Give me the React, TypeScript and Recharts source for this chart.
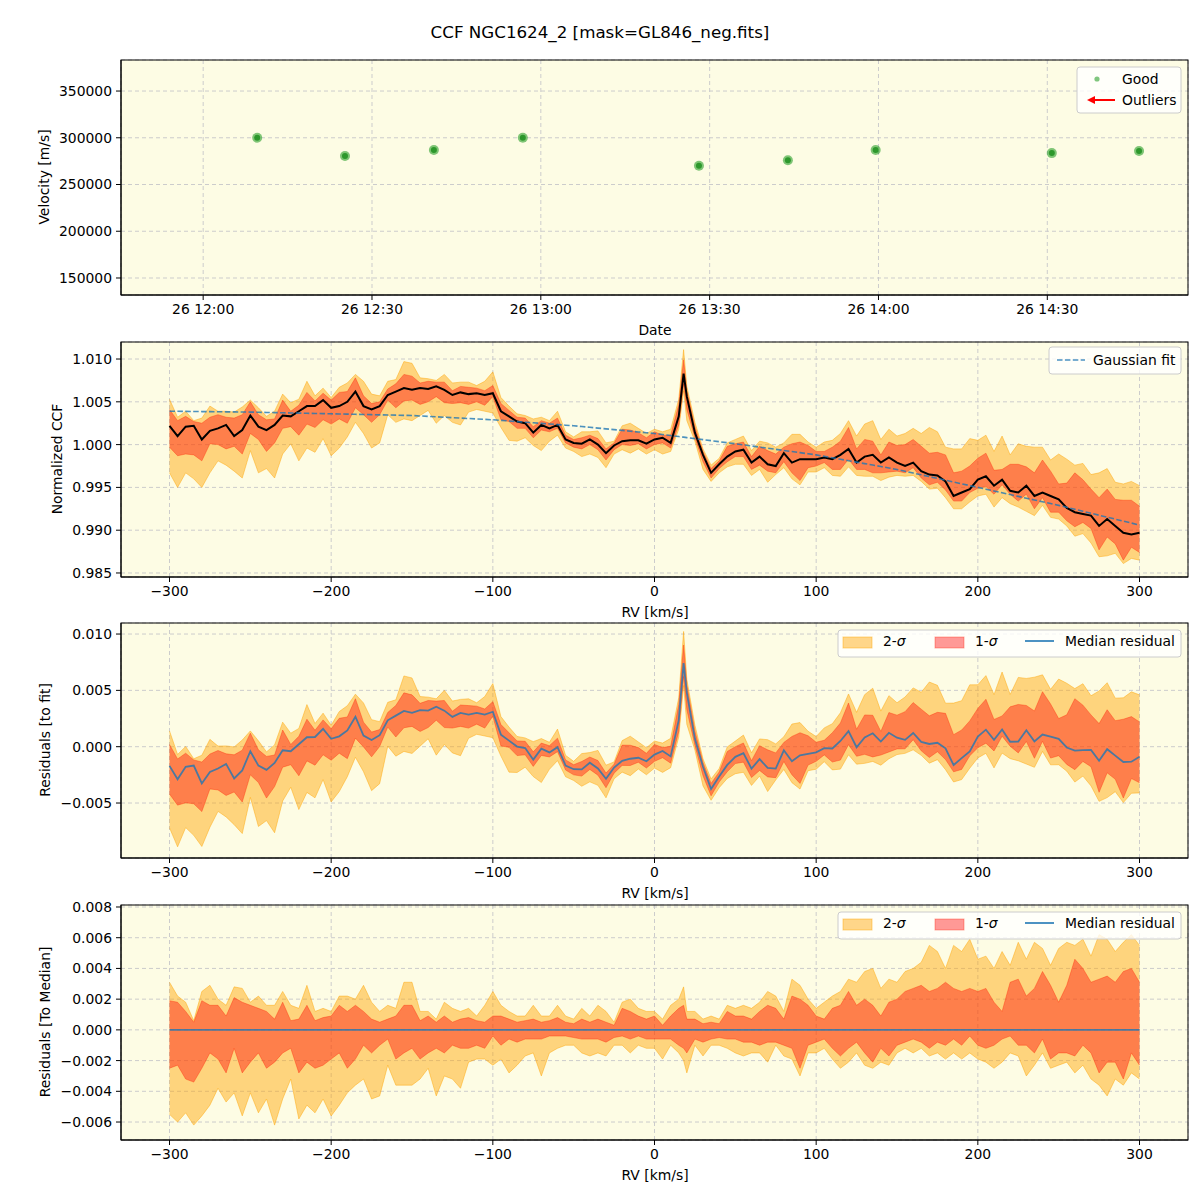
import { ComposedChart, ScatterChart, Scatter, Area, Line, XAxis, YAxis, CartesianGrid } from "recharts";

// observation times (26th) and measured velocities
const obsTimes = ["12:09:36", "12:25:12", "12:41:00", "12:56:48", "13:28:06", "13:43:54", "13:59:30", "14:30:48", "14:46:18"];
const obsVel = [300000, 280500, 287000, 300000, 270000, 276000, 287000, 283600, 285800];
const timeTicks = [0, 30, 60, 90, 120, 150]; // minutes after 12:00
const velTicks = [150000, 200000, 250000, 300000, 350000];

// RV grid [km/s]
const rv = [
  -300, -295, -290, -285, -280, -275, -270, -265, -260, -255,
  -250, -245, -240, -235, -230, -225, -220, -215, -210, -205,
  -200, -195, -190, -185, -180, -175, -170, -165, -160, -155,
  -150, -145, -140, -135, -130, -125, -120, -115, -110, -105,
  -100, -95, -90, -85, -80, -75, -70, -65, -60, -55,
  -50, -45, -40, -35, -30, -25, -20, -15, -10, -5,
  0, 5, 10, 15, 18, 20, 25, 30, 35, 40,
  45, 50, 55, 60, 65, 70, 75, 80, 85, 90,
  95, 100, 105, 110, 115, 120, 125, 130, 135, 140,
  145, 150, 155, 160, 165, 170, 175, 180, 185, 190,
  195, 200, 205, 210, 215, 220, 225, 230, 235, 240,
  245, 250, 255, 260, 265, 270, 275, 280, 285, 290,
  295, 300,
];

// median normalized CCF
const ccf = [
  1.0022, 1.0010, 1.0021, 1.0022, 1.0006, 1.0016, 1.0019, 1.0023, 1.0010, 1.0017,
  1.0034, 1.0021, 1.0017, 1.0023, 1.0034, 1.0033, 1.0039, 1.0045, 1.0045, 1.0052,
  1.0043, 1.0045, 1.0050, 1.0062, 1.0045, 1.0041, 1.0045, 1.0058, 1.0062, 1.0066,
  1.0064, 1.0066, 1.0065, 1.0068, 1.0064, 1.0058, 1.0061, 1.0059, 1.0060, 1.0058,
  1.0060, 1.0039, 1.0033, 1.0027, 1.0025, 1.0014, 1.0023, 1.0019, 1.0023, 1.0006,
  1.0002, 1.0001, 1.0006, 1.0000, 0.9990, 0.9999, 1.0004, 1.0005, 1.0005, 1.0001,
  1.0006, 1.0008, 1.0002, 1.0033, 1.0083, 1.0056, 1.0014, 0.9988, 0.9967, 0.9977,
  0.9986, 0.9992, 0.9994, 0.9979, 0.9986, 0.9977, 0.9975, 0.9990, 0.9979, 0.9983,
  0.9983, 0.9983, 0.9985, 0.9983, 0.9988, 0.9995, 0.9979, 0.9986, 0.9988, 0.9979,
  0.9985, 0.9979, 0.9975, 0.9979, 0.9969, 0.9965, 0.9964, 0.9957, 0.9940, 0.9944,
  0.9948, 0.9959, 0.9963, 0.9952, 0.9959, 0.9946, 0.9944, 0.9952, 0.9940, 0.9944,
  0.9940, 0.9936, 0.9926, 0.9921, 0.9919, 0.9917, 0.9905, 0.9913, 0.9905, 0.9897,
  0.9895, 0.9897,
];

// gaussian fit
const gaussFit = [
  1.0039, 1.00389, 1.00388, 1.00387, 1.00386, 1.00385, 1.00384, 1.00383, 1.00382, 1.00381,
  1.0038, 1.00378, 1.00376, 1.00374, 1.00372, 1.0037, 1.00368, 1.00366, 1.00364, 1.00362,
  1.0036, 1.00358, 1.00356, 1.00354, 1.00352, 1.0035, 1.00348, 1.00346, 1.00344, 1.00342,
  1.0034, 1.00335, 1.0033, 1.00325, 1.0032, 1.00315, 1.0031, 1.00305, 1.003, 1.00295,
  1.0029, 1.00283, 1.00276, 1.00269, 1.00262, 1.00255, 1.00248, 1.00241, 1.00234, 1.00227,
  1.0022, 1.00211, 1.00202, 1.00193, 1.00184, 1.00175, 1.00166, 1.00157, 1.00148, 1.00139,
  1.0013, 1.00118, 1.00106, 1.00094, 1.00087, 1.00082, 1.0007, 1.00058, 1.00046, 1.00034,
  1.00022, 1.0001, 0.99997, 0.99984, 0.99971, 0.99958, 0.99945, 0.99932, 0.99919, 0.99906,
  0.99893, 0.9988, 0.99863, 0.99846, 0.99829, 0.99812, 0.99795, 0.99778, 0.99761, 0.99744,
  0.99727, 0.9971, 0.99689, 0.99668, 0.99647, 0.99626, 0.99605, 0.99584, 0.99563, 0.99542,
  0.99521, 0.995, 0.99479, 0.99458, 0.99437, 0.99416, 0.99395, 0.99374, 0.99353, 0.99332,
  0.99311, 0.9929, 0.99267, 0.99244, 0.99221, 0.99198, 0.99175, 0.99152, 0.99129, 0.99106,
  0.99083, 0.9906,
];

// spread around the median (residuals to median)
const hi2 = [
  0.0031, 0.0022, 0.0018, 0.0006, 0.0025, 0.0029, 0.0020, 0.0016, 0.0028, 0.0027,
  0.0018, 0.0022, 0.0016, 0.0016, 0.0025, 0.0016, 0.0014, 0.0029, 0.0012, 0.0014,
  0.0012, 0.0022, 0.0022, 0.0020, 0.0029, 0.0018, 0.0012, 0.0016, 0.0014, 0.0031,
  0.0031, 0.0012, 0.0012, 0.0007, 0.0018, 0.0014, 0.0012, 0.0014, 0.0009, 0.0016,
  0.0025, 0.0016, 0.0012, 0.0009, 0.0009, 0.0016, 0.0009, 0.0009, 0.0016, 0.0009,
  0.0007, 0.0014, 0.0009, 0.0016, 0.0012, 0.0005, 0.0018, 0.0020, 0.0014, 0.0012,
  0.0012, 0.0007, 0.0016, 0.0020, 0.0028, 0.0012, 0.0012, 0.0007, 0.0009, 0.0007,
  0.0016, 0.0014, 0.0016, 0.0014, 0.0018, 0.0025, 0.0022, 0.0012, 0.0033, 0.0029,
  0.0020, 0.0014, 0.0018, 0.0022, 0.0025, 0.0033, 0.0031, 0.0038, 0.0040, 0.0027,
  0.0033, 0.0031, 0.0038, 0.0040, 0.0044, 0.0055, 0.0051, 0.0040, 0.0055, 0.0051,
  0.0059, 0.0046, 0.0048, 0.0040, 0.0051, 0.0042, 0.0057, 0.0046, 0.0057, 0.0053,
  0.0042, 0.0053, 0.0057, 0.0055, 0.0059, 0.0048, 0.0062, 0.0059, 0.0051, 0.0057,
  0.0062, 0.0055,
];
const hi1 = [
  0.0019, 0.0018, 0.0012, 0.0005, 0.0019, 0.0016, 0.0016, 0.0009, 0.0021, 0.0018,
  0.0016, 0.0014, 0.0012, 0.0007, 0.0018, 0.0006, 0.0007, 0.0016, 0.0006, 0.0008,
  0.0009, 0.0016, 0.0012, 0.0016, 0.0012, 0.0007, 0.0005, 0.0007, 0.0009, 0.0016,
  0.0016, 0.0006, 0.0009, 0.0005, 0.0009, 0.0005, 0.0007, 0.0008, 0.0006, 0.0005,
  0.0009, 0.0009, 0.0007, 0.0005, 0.0006, 0.0007, 0.0005, 0.0006, 0.0008, 0.0005,
  0.0004, 0.0007, 0.0005, 0.0007, 0.0005, 0.0003, 0.0014, 0.0012, 0.0009, 0.0007,
  0.0009, 0.0003, 0.0009, 0.0014, 0.0016, 0.0007, 0.0007, 0.0004, 0.0005, 0.0004,
  0.0012, 0.0009, 0.0009, 0.0007, 0.0012, 0.0016, 0.0014, 0.0007, 0.0022, 0.0020,
  0.0016, 0.0009, 0.0007, 0.0014, 0.0016, 0.0025, 0.0016, 0.0020, 0.0016, 0.0009,
  0.0018, 0.0020, 0.0025, 0.0027, 0.0029, 0.0025, 0.0027, 0.0031, 0.0027, 0.0025,
  0.0027, 0.0025, 0.0027, 0.0018, 0.0012, 0.0031, 0.0033, 0.0022, 0.0027, 0.0038,
  0.0029, 0.0018, 0.0029, 0.0046, 0.0040, 0.0031, 0.0033, 0.0035, 0.0031, 0.0038,
  0.0040, 0.0031,
];
const lo1 = [
  -0.0025, -0.0023, -0.0032, -0.0034, -0.0025, -0.0015, -0.0019, -0.0028, -0.0012, -0.0028,
  -0.0021, -0.0015, -0.0025, -0.0021, -0.0015, -0.0012, -0.0028, -0.0021, -0.0025, -0.0023,
  -0.0019, -0.0015, -0.0025, -0.0019, -0.0010, -0.0015, -0.0010, -0.0006, -0.0019, -0.0015,
  -0.0012, -0.0019, -0.0015, -0.0012, -0.0015, -0.0010, -0.0012, -0.0012, -0.0010, -0.0012,
  -0.0004, -0.0010, -0.0006, -0.0008, -0.0006, -0.0006, -0.0006, -0.0004, -0.0004, -0.0004,
  -0.0005, -0.0006, -0.0006, -0.0006, -0.0008, -0.0005, -0.0004, -0.0006, -0.0004, -0.0006,
  -0.0006, -0.0006, -0.0006, -0.0010, -0.0012, -0.0015, -0.0006, -0.0008, -0.0006, -0.0005,
  -0.0006, -0.0006, -0.0008, -0.0008, -0.0010, -0.0008, -0.0008, -0.0010, -0.0012, -0.0025,
  -0.0010, -0.0008, -0.0006, -0.0012, -0.0017, -0.0012, -0.0008, -0.0015, -0.0021, -0.0012,
  -0.0017, -0.0010, -0.0008, -0.0006, -0.0008, -0.0012, -0.0008, -0.0010, -0.0006, -0.0010,
  -0.0004, -0.0010, -0.0012, -0.0010, -0.0006, -0.0004, -0.0010, -0.0010, -0.0015, -0.0006,
  -0.0019, -0.0015, -0.0015, -0.0017, -0.0010, -0.0015, -0.0028, -0.0021, -0.0021, -0.0032,
  -0.0015, -0.0023,
];
const lo2 = [
  -0.0055, -0.0060, -0.0054, -0.0062, -0.0056, -0.0049, -0.0038, -0.0047, -0.0041, -0.0056,
  -0.0041, -0.0054, -0.0045, -0.0062, -0.0045, -0.0032, -0.0058, -0.0049, -0.0054, -0.0045,
  -0.0056, -0.0049, -0.0041, -0.0036, -0.0032, -0.0045, -0.0043, -0.0023, -0.0036, -0.0036,
  -0.0036, -0.0032, -0.0025, -0.0043, -0.0030, -0.0032, -0.0038, -0.0021, -0.0019, -0.0019,
  -0.0023, -0.0019, -0.0028, -0.0023, -0.0017, -0.0015, -0.0030, -0.0015, -0.0012, -0.0010,
  -0.0010, -0.0015, -0.0017, -0.0015, -0.0017, -0.0010, -0.0010, -0.0015, -0.0010, -0.0012,
  -0.0012, -0.0019, -0.0010, -0.0015, -0.0020, -0.0028, -0.0010, -0.0017, -0.0010, -0.0010,
  -0.0012, -0.0015, -0.0017, -0.0015, -0.0015, -0.0021, -0.0010, -0.0017, -0.0019, -0.0030,
  -0.0015, -0.0015, -0.0012, -0.0019, -0.0025, -0.0021, -0.0015, -0.0023, -0.0025, -0.0021,
  -0.0023, -0.0015, -0.0012, -0.0015, -0.0012, -0.0017, -0.0015, -0.0019, -0.0015, -0.0019,
  -0.0015, -0.0019, -0.0021, -0.0025, -0.0021, -0.0015, -0.0017, -0.0030, -0.0023, -0.0015,
  -0.0025, -0.0023, -0.0021, -0.0028, -0.0023, -0.0032, -0.0036, -0.0043, -0.0032, -0.0036,
  -0.0028, -0.0032,
];

const rvTicks = [-300, -200, -100, 0, 100, 200, 300];
const ccfTicks = [0.985, 0.99, 0.995, 1.0, 1.005, 1.01];
const resTicks = [-0.005, 0, 0.005, 0.01];
const medTicks = [-0.006, -0.004, -0.002, 0, 0.002, 0.004, 0.006, 0.008];

const FONT = "DejaVu Sans, sans-serif";
const BG = "#fdfce4";
const PLOT_L = 121;
const PLOT_R = 1188;
const PLOT_H = 235;
const PAD_TOP = 10;
const XAX_H = 30;
const CHART_H = PAD_TOP + PLOT_H + XAX_H;
const TOPS = [60, 342, 623, 905];
const MARGIN = { top: PAD_TOP, right: 1200 - PLOT_R, bottom: 0, left: 0 };
const tickStyle = { fill: "#000", fontSize: 13.9, fontFamily: FONT };
const BLUE = "#1f77b4";

const minus = (s: string) => s.replace("-", "\u2212");
const fmt3 = (v: number) => minus(v.toFixed(3));
const fmtRv = (v: number) => minus(String(v));
const toMin = (t: string) => {
  const [h, m, s] = t.split(":").map(Number);
  return (h - 12) * 60 + m + s / 60;
};
const fmtTime = (m: number) => {
  const tot = 12 * 60 + m;
  return `26 ${Math.floor(tot / 60)}:${String(tot % 60).padStart(2, "0")}`;
};

const obsPoints = obsTimes.map((t, i) => ({ t: toMin(t), v: obsVel[i] }));

const ccfRows = rv.map((x, i) => ({
  rv: x,
  med: ccf[i],
  fit: gaussFit[i],
  s2: [ccf[i] + lo2[i], ccf[i] + hi2[i]],
  s1: [ccf[i] + lo1[i], ccf[i] + hi1[i]],
}));

const fitRows = rv.map((x, i) => {
  const r = ccf[i] - gaussFit[i];
  return { rv: x, med: r, s2: [r + lo2[i], r + hi2[i]], s1: [r + lo1[i], r + hi1[i]] };
});

const medRows = rv.map((x, i) => ({
  rv: x,
  med: ccf[i] - ccf[i],
  s2: [lo2[i], hi2[i]],
  s1: [lo1[i], hi1[i]],
}));

function GoodDot(p: any) {
  return (
    <g>
      <circle cx={p.cx} cy={p.cy} r={5} fill="#2ca02c" fillOpacity={0.6} />
      <circle cx={p.cx} cy={p.cy} r={3} fill="#1f8f1f" fillOpacity={0.85} />
    </g>
  );
}

function RvPanel({ rows, top, domain, ticks, showFit, lineColor }: any) {
  return (
    <div style={{ position: "absolute", left: 0, top: top - PAD_TOP }}>
      <ComposedChart width={1200} height={CHART_H} data={rows} margin={MARGIN}>
        <CartesianGrid stroke="#cccccc" strokeDasharray="4 3" fill={BG} fillOpacity={1} />
        <XAxis
          dataKey="rv"
          type="number"
          domain={[-330, 330]}
          ticks={rvTicks}
          tickFormatter={fmtRv}
          tick={tickStyle}
          tickSize={5}
          tickMargin={4}
          height={XAX_H}
          stroke="#000"
          allowDataOverflow
        />
        <YAxis
          type="number"
          domain={domain}
          ticks={ticks}
          tickFormatter={fmt3}
          tick={tickStyle}
          tickSize={5}
          tickMargin={4}
          width={PLOT_L}
          stroke="#000"
          allowDataOverflow
        />
        <Area
          dataKey="s2"
          type="linear"
          fill="#ffa500"
          fillOpacity={0.45}
          stroke="#ffa500"
          strokeOpacity={0.45}
          strokeWidth={1}
          dot={false}
          activeDot={false}
          isAnimationActive={false}
        />
        <Area
          dataKey="s1"
          type="linear"
          fill="#ff0000"
          fillOpacity={0.4}
          stroke="#ff2000"
          strokeOpacity={0.35}
          strokeWidth={1}
          dot={false}
          activeDot={false}
          isAnimationActive={false}
        />
        <Line
          dataKey="med"
          type="linear"
          stroke={lineColor}
          strokeOpacity={lineColor === "#000" ? 1 : 0.8}
          strokeWidth={lineColor === "#000" ? 2 : 1.8}
          dot={false}
          activeDot={false}
          isAnimationActive={false}
        />
        {showFit && (
          <Line
            dataKey="fit"
            type="linear"
            stroke={BLUE}
            strokeOpacity={0.8}
            strokeWidth={1.6}
            strokeDasharray="5.5 2.4"
            dot={false}
            activeDot={false}
            isAnimationActive={false}
          />
        )}
      </ComposedChart>
    </div>
  );
}

function BandLegend({ y }: { y: number }) {
  return (
    <g fontFamily={FONT} fontSize={13.9}>
      <rect x={838} y={y} width={343} height={27} rx={3} fill="#fff" fillOpacity={0.8} stroke="#cccccc" />
      <rect x={843} y={y + 7} width={29} height={11} fill="#ffa500" fillOpacity={0.45} stroke="#ffa500" strokeOpacity={0.45} />
      <text x={883} y={y + 16}>
        2-<tspan fontStyle="italic">σ</tspan>
      </text>
      <rect x={935} y={y + 7} width={29} height={11} fill="#ff0000" fillOpacity={0.4} stroke="#ff2000" strokeOpacity={0.35} />
      <text x={975} y={y + 16}>
        1-<tspan fontStyle="italic">σ</tspan>
      </text>
      <line x1={1025} x2={1054} y1={y + 11} y2={y + 11} stroke={BLUE} strokeOpacity={0.8} strokeWidth={2} />
      <text x={1065} y={y + 16}>Median residual</text>
    </g>
  );
}

export default function App() {
  return (
    <div style={{ position: "absolute", left: 0, top: 0, width: 1200, height: 1200, background: "#fff", fontFamily: FONT }}>
      {/* velocities over time */}
      <div style={{ position: "absolute", left: 0, top: TOPS[0] - PAD_TOP }}>
        <ScatterChart width={1200} height={CHART_H} margin={MARGIN}>
          <CartesianGrid stroke="#cccccc" strokeDasharray="4 3" fill={BG} fillOpacity={1} />
          <XAxis
            dataKey="t"
            type="number"
            domain={[-14.6, 175]}
            ticks={timeTicks}
            tickFormatter={fmtTime}
            tick={tickStyle}
            tickSize={5}
            tickMargin={4}
            height={XAX_H}
            stroke="#000"
            allowDataOverflow
          />
          <YAxis
            dataKey="v"
            type="number"
            domain={[131800, 383200]}
            ticks={velTicks}
            tick={tickStyle}
            tickSize={5}
            tickMargin={4}
            width={PLOT_L}
            stroke="#000"
            allowDataOverflow
          />
          <Scatter data={obsPoints} shape={GoodDot} isAnimationActive={false} />
        </ScatterChart>
      </div>

      <RvPanel rows={ccfRows} top={TOPS[1]} domain={[0.98453, 1.01199]} ticks={ccfTicks} showFit lineColor="#000" />
      <RvPanel rows={fitRows} top={TOPS[2]} domain={[-0.00988, 0.01098]} ticks={resTicks} lineColor={BLUE} />
      <RvPanel rows={medRows} top={TOPS[3]} domain={[-0.00717, 0.00813]} ticks={medTicks} lineColor={BLUE} />

      <svg width={1200} height={1200} style={{ position: "absolute", left: 0, top: 0, pointerEvents: "none" }}>
        {TOPS.map((t) => (
          <rect key={t} x={PLOT_L} y={t} width={PLOT_R - PLOT_L} height={PLOT_H} fill="none" stroke="#000" strokeWidth={1} />
        ))}
        <g fontFamily={FONT} fill="#000">
          <text x={600} y={38} fontSize={16.7} textAnchor="middle">
            CCF NGC1624_2 [mask=GL846_neg.fits]
          </text>
          <text x={655} y={335} fontSize={13.9} textAnchor="middle">Date</text>
          <text x={655} y={617} fontSize={13.9} textAnchor="middle">RV [km/s]</text>
          <text x={655} y={898} fontSize={13.9} textAnchor="middle">RV [km/s]</text>
          <text x={655} y={1180} fontSize={13.9} textAnchor="middle">RV [km/s]</text>
          <text transform="translate(49,177) rotate(-90)" fontSize={13.9} textAnchor="middle">Velocity [m/s]</text>
          <text transform="translate(62,459) rotate(-90)" fontSize={13.9} textAnchor="middle">Normalized CCF</text>
          <text transform="translate(50,740) rotate(-90)" fontSize={13.9} textAnchor="middle">Residuals [to fit]</text>
          <text transform="translate(50,1022) rotate(-90)" fontSize={13.9} textAnchor="middle">Residuals [To Median]</text>
        </g>

        {/* legend: velocities */}
        <g fontFamily={FONT} fontSize={13.9}>
          <rect x={1077} y={67} width={104} height={46} rx={3} fill="#fff" fillOpacity={0.8} stroke="#cccccc" />
          <circle cx={1097} cy={79} r={2.6} fill="#2ca02c" fillOpacity={0.6} />
          <text x={1122} y={84}>Good</text>
          <line x1={1115} x2={1093} y1={100} y2={100} stroke="#ff0000" strokeWidth={2} />
          <polygon points="1087,100 1095,96 1095,104" fill="#ff0000" />
          <text x={1122} y={105}>Outliers</text>
        </g>

        {/* legend: gaussian fit */}
        <g fontFamily={FONT} fontSize={13.9}>
          <rect x={1049} y={347} width={132} height={27} rx={3} fill="#fff" fillOpacity={0.8} stroke="#cccccc" />
          <line x1={1057} x2={1085} y1={360} y2={360} stroke={BLUE} strokeOpacity={0.8} strokeWidth={1.6} strokeDasharray="5.5 2.4" />
          <text x={1093} y={365}>Gaussian fit</text>
        </g>

        <BandLegend y={630} />
        <BandLegend y={912} />
      </svg>
    </div>
  );
}
